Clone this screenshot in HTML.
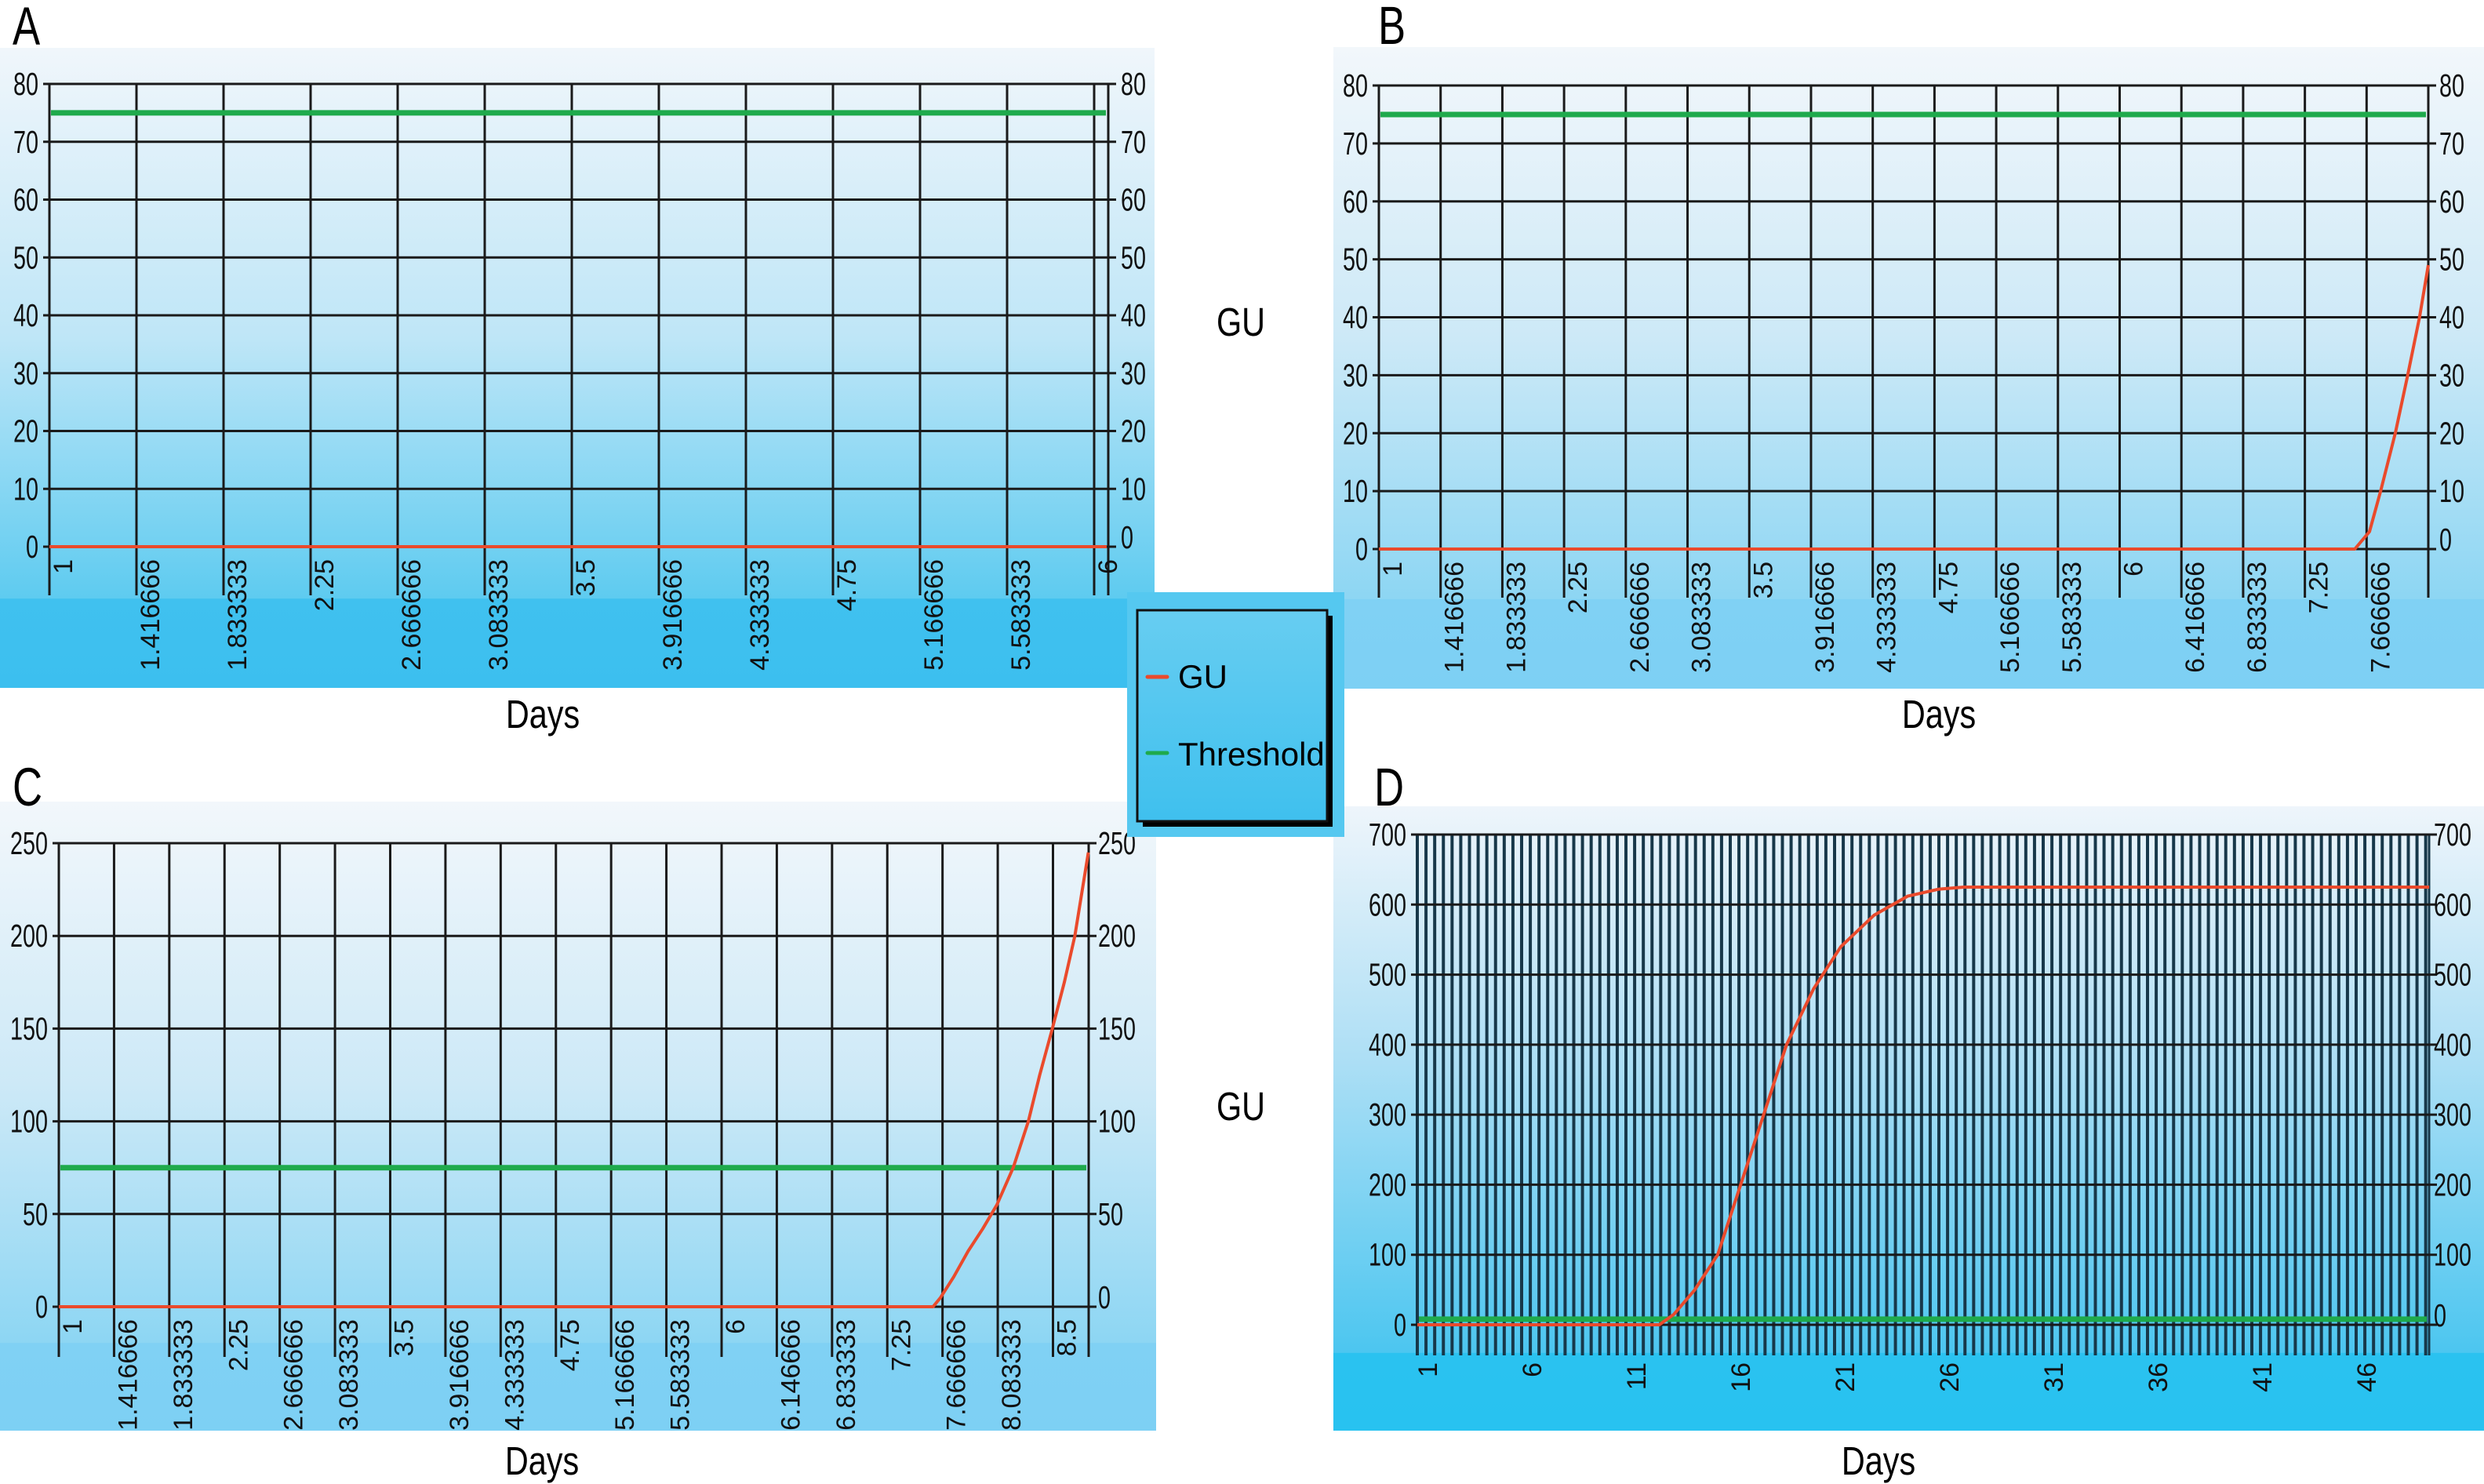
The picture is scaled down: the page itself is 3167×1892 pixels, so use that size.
<!DOCTYPE html>
<html><head><meta charset="utf-8"><style>
html,body{margin:0;padding:0;background:#fff;}
svg{display:block;font-family:"Liberation Sans",sans-serif;}
</style></head><body>
<svg id="fig" width="3167" height="1892" viewBox="0 0 3167 1892" xmlns="http://www.w3.org/2000/svg">
<defs>
<linearGradient id="gA" x1="0" y1="0" x2="0" y2="1">
<stop offset="0" stop-color="#f0f6fb"/><stop offset="0.45" stop-color="#bfe6f7"/><stop offset="0.86" stop-color="#5ecbf0"/><stop offset="0.861" stop-color="#40c1ef"/><stop offset="1" stop-color="#3cbfef"/></linearGradient>
<linearGradient id="gB" x1="0" y1="0" x2="0" y2="1">
<stop offset="0" stop-color="#f2f7fb"/><stop offset="0.45" stop-color="#cde9f7"/><stop offset="0.86" stop-color="#8dd6f3"/><stop offset="0.861" stop-color="#80d1f4"/><stop offset="1" stop-color="#7dd0f4"/></linearGradient>
<linearGradient id="gD" x1="0" y1="0" x2="0" y2="1">
<stop offset="0" stop-color="#eef5fb"/><stop offset="0.4" stop-color="#aedff5"/><stop offset="0.875" stop-color="#4cc6f0"/><stop offset="0.876" stop-color="#2ac2f0"/><stop offset="1" stop-color="#28c2f0"/></linearGradient>
<linearGradient id="gL" x1="0" y1="0" x2="0" y2="1">
<stop offset="0" stop-color="#67cdf1"/><stop offset="1" stop-color="#3fc0ee"/></linearGradient>
</defs>
<g id="root"></g>
</svg>
<script>
// ---- Panel A data ----
const aLabels=["1","1.416666","1.833333","2.25","2.666666","3.083333","3.5","3.916666","4.333333","4.75","5.166666","5.583333","6"];
const aGuDays=[1,6.06];
const aGuVals=[0,0];
const aThreshold=75;
const aYTicks=[0,10,20,30,40,50,60,70,80];
// ---- Panel B data ----
const bLabels=["1","1.416666","1.833333","2.25","2.666666","3.083333","3.5","3.916666","4.333333","4.75","5.166666","5.583333","6","6.416666","6.833333","7.25","7.666666"];
const bGuDays=[1,7.587,7.62,7.686,7.761,7.86,7.944,8.024,8.083];
const bGuVals=[0,0,1,3,10,20,30,40,49];
const bThreshold=75;
const bYTicks=[0,10,20,30,40,50,60,70,80];
// ---- Panel C data ----
const cLabels=["1","1.416666","1.833333","2.25","2.666666","3.083333","3.5","3.916666","4.333333","4.75","5.166666","5.583333","6","6.146666","6.833333","7.25","7.666666","8.083333","8.5"];
const cGuDays=[1,7.595,7.652,7.75,7.86,7.97,8.077,8.2,8.314,8.4,8.495,8.586,8.665,8.767];
const cGuVals=[0,0,5,16,30,42,55,75,100,125,150,175,200,245];
const cThreshold=75;
const cYTicks=[0,50,100,150,200,250];
// ---- Panel D data ----
const dLabels=["1","6","11","16","21","26","31","36","41","46"];
const dLabelDays=[1,6,11,16,21,26,31,36,41,46];
const dGuDays=[1,12.6,13.3,14.3,15.4,16.5,17.6,18.7,20.0,21.3,22.9,24.5,26.0,27.2,49.5];
const dGuVals=[0,0,15,50,100,200,300,400,480,540,585,612,622,625,625];
const dThreshold=8;
const dYTicks=[0,100,200,300,400,500,600,700];

const NS="http://www.w3.org/2000/svg";
const root=document.getElementById('root');
function mk(tag,attrs,parent,text){const e=document.createElementNS(NS,tag);for(const k in attrs)e.setAttribute(k,attrs[k]);if(text!==undefined)e.textContent=text;(parent||root).appendChild(e);return e;}

function panel(p){
  const g=mk('g',{});
  
  
  const bg=mk('rect',{x:p.bg[0],y:p.bg[1],width:p.bg[2],height:p.bg[3],fill:'url(#'+p.grad+')'},g);
  
  
  const xs=d=>p.left+(d-1)*p.ppd;
  const ys=v=>p.bottom-v/p.ymax*(p.bottom-p.top);
  const L=mk('text',{x:0,y:0,transform:'translate('+p.letter[0]+','+p.letter[1]+') scale(0.85,1.1)','font-size':62,fill:'#000'},g,p.id.toUpperCase());
  
  
  const vg=mk('g',{},g);
  
  
  const step=5/12;
  for(let i=0;;i++){const d=1+i*step;const x=xs(d);if(x>p.right-3)break;
    const ln=mk('line',{x1:x,x2:x,y1:p.top,y2:p.tickBottom,stroke:p.vColor,'stroke-width':p.vWidth},vg);
    
    }
  const rb=mk('line',{x1:p.right,x2:p.right,y1:p.top,y2:p.tickBottom,stroke:p.vColor,'stroke-width':3},vg);
  
  
  p.yTicks.forEach(v=>{const y=ys(v);
    const hl=mk('line',{x1:p.left-8,x2:p.right+10,y1:y,y2:y,stroke:'#1a1a1a','stroke-width':3},g);
    
    
    const t1=mk('text',{x:0,y:0,transform:'translate('+(p.left-14)+','+(y+14)+') scale(0.8,1.12)','text-anchor':'end','font-size':36,fill:'#111'},g,String(v));
    
    
    const t2=mk('text',{x:0,y:0,transform:'translate('+(p.right+p.rOff)+','+(y+(v===0?2:14))+') scale(0.8,1.12)','font-size':36,fill:'#111'},g,String(v));
    
    
  });
  p.labels.forEach((s,i)=>{const d=p.labelDays?p.labelDays[i]:1+i*step;const x=xs(d)+p.lblOff;const y=p.lblTop;
    const t=mk('text',{x:0,y:0,transform:'translate('+x+','+y+') rotate(-90)','text-anchor':'end','dominant-baseline':'central','font-size':34,fill:'#111'},g,s);
    
    
  });
  const th=mk('line',{x1:p.left+2,x2:p.right-3,y1:ys(p.thr),y2:ys(p.thr),stroke:'#1faa4c','stroke-width':7},g);
  
  
  const pts=p.gDays.map((d,i)=>xs(d).toFixed(1)+','+ys(p.gVals[i]).toFixed(1)).join(' ');
  const gu=mk('polyline',{points:pts,fill:'none',stroke:'#ea4a2c','stroke-width':4,'stroke-linejoin':'round'},g);
  
  
  const dt=mk('text',{x:0,y:0,transform:'translate('+p.days[0]+','+p.days[1]+') scale(0.9,1.1)','text-anchor':'middle','font-size':46,fill:'#000'},g,'Days');
  
  
}

panel({id:'a',grad:'gA',bg:[0,61,1472,816],left:63,right:1413,top:107,bottom:697,tickBottom:759,ppd:266.4,ymax:80,yTicks:aYTicks,labels:aLabels,gDays:aGuDays,gVals:aGuVals,thr:aThreshold,letter:[16,57],days:[692,928],lblOff:18,lblTop:713,vColor:'#1a1a1a',vWidth:3,rOff:16});
panel({id:'b',grad:'gB',bg:[1700,60,1467,818],left:1758,right:3096,top:109,bottom:700,tickBottom:762,ppd:188.9,ymax:80,yTicks:bYTicks,labels:bLabels,gDays:bGuDays,gVals:bGuVals,thr:bThreshold,letter:[1757,56],days:[2472,928],lblOff:18,lblTop:716,vColor:'#1a1a1a',vWidth:3,rOff:14});
panel({id:'c',grad:'gB',bg:[0,1022,1474,802],left:75,right:1388,top:1075,bottom:1666,tickBottom:1730,ppd:169,ymax:250,yTicks:cYTicks,labels:cLabels,gDays:cGuDays,gVals:cGuVals,thr:cThreshold,letter:[16,1027],days:[691,1880],lblOff:18,lblTop:1682,vColor:'#1a1a1a',vWidth:3,rOff:12});
panel({id:'d',grad:'gD',bg:[1700,1028,1467,796],left:1807,right:3097,top:1064,bottom:1689,tickBottom:1728,ppd:26.6,ymax:700,yTicks:dYTicks,labels:dLabels,labelDays:dLabelDays,gDays:dGuDays,gVals:dGuVals,thr:dThreshold,letter:[1752,1027],days:[2395,1880],lblOff:14,lblTop:1737,vColor:'#17384a',vWidth:4,rOff:6});

const gu1=mk('text',{x:0,y:0,transform:'translate(1582,428) scale(0.9,1.1)','text-anchor':'middle','font-size':46,fill:'#000'},root,'GU');


const gu2=mk('text',{x:0,y:0,transform:'translate(1582,1428) scale(0.9,1.1)','text-anchor':'middle','font-size':46,fill:'#000'},root,'GU');



const lg=mk('g',{});


mk('rect',{x:1437,y:755,width:277,height:312,fill:'#55c8f0'},lg);
mk('rect',{x:1457,y:785,width:242,height:269,fill:'#000'},lg);
mk('rect',{x:1450,y:778,width:242,height:269,fill:'url(#gL)',stroke:'#111','stroke-width':3},lg);
const e1=mk('g',{},lg);


mk('line',{x1:1463,x2:1488,y1:863,y2:863,stroke:'#ea4a2c','stroke-width':5,'stroke-linecap':'round'},e1);
mk('text',{x:1502,y:877,'font-size':42,fill:'#000'},e1,'GU');
const e2=mk('g',{},lg);


mk('line',{x1:1463,x2:1488,y1:960,y2:960,stroke:'#1faa4c','stroke-width':5,'stroke-linecap':'round'},e2);
mk('text',{x:1502,y:976,'font-size':42,fill:'#000'},e2,'Threshold');
</script>
</body></html>
